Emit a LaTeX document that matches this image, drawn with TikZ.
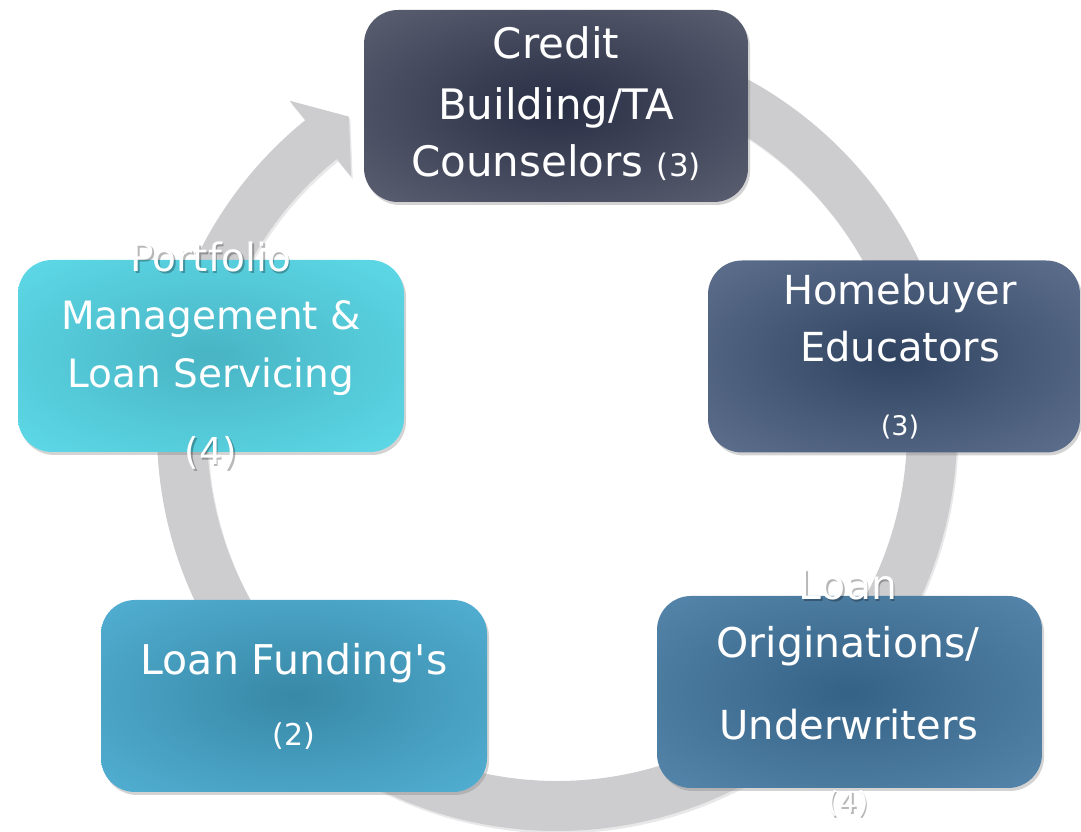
\documentclass[tikz,border=0pt]{standalone}
\usepackage{fontspec}
\setmainfont{DejaVu Sans}
\usetikzlibrary{shadows,calc}
\definecolor{ringgray}{RGB}{205,205,208}
\definecolor{crEdge}{RGB}{92,96,114}
\definecolor{crMid}{RGB}{40,46,68}
\definecolor{hbEdge}{RGB}{94,112,142}
\definecolor{hbMid}{RGB}{48,68,98}
\definecolor{loEdge}{RGB}{86,134,171}
\definecolor{loMid}{RGB}{52,98,134}
\definecolor{lfEdge}{RGB}{82,176,212}
\definecolor{lfMid}{RGB}{56,136,166}
\definecolor{pfEdge}{RGB}{94,218,232}
\definecolor{pfMid}{RGB}{72,180,196}
\pgfdeclareradialshading{crsh}{\pgfpoint{0bp}{0bp}}{color(0bp)=(crMid); color(36bp)=(crEdge); color(100bp)=(crEdge)}
\pgfdeclareradialshading{hbsh}{\pgfpoint{0bp}{0bp}}{color(0bp)=(hbMid); color(36bp)=(hbEdge); color(100bp)=(hbEdge)}
\pgfdeclareradialshading{losh}{\pgfpoint{0bp}{0bp}}{color(0bp)=(loMid); color(36bp)=(loEdge); color(100bp)=(loEdge)}
\pgfdeclareradialshading{lfsh}{\pgfpoint{0bp}{0bp}}{color(0bp)=(lfMid); color(36bp)=(lfEdge); color(100bp)=(lfEdge)}
\pgfdeclareradialshading{pfsh}{\pgfpoint{0bp}{0bp}}{color(0bp)=(pfMid); color(36bp)=(pfEdge); color(100bp)=(pfEdge)}
\tikzset{
  box/.style={rounded corners=34pt, minimum width=#1, minimum height=192pt, inner sep=0pt, shade,
    drop shadow={opacity=0.35, shadow xshift=2pt, shadow yshift=-3pt}},
  lbl/.style={text=white, anchor=base, inner sep=0pt},
  lblshadow/.style={text=black, text opacity=0.28, anchor=base, inner sep=0pt},
}
\newcommand{\fs}[1]{\fontsize{#1}{#1}\selectfont}
\begin{document}
\begin{tikzpicture}[x=1pt,y=1pt]
\useasboundingbox (0,0) rectangle (1081,832);
\coordinate (C) at (557,401);
% ring arrow
\fill[ringgray, drop shadow={opacity=0.18, shadow xshift=1.5pt, shadow yshift=-2.5pt}]
  ($(C)+(90:400)$) arc[start angle=90, end angle=-231, radius=400]
  -- ($(C)+(129:425)$) -- ($(C)+(123.5:377)$) -- ($(C)+(129:327)$)
  -- ($(C)+(129:350)$) arc[start angle=-231, end angle=90, radius=350] -- cycle;
% boxes
\node[box=384pt, shading=crsh] (cr) at (556,726) {};
\node[box=372pt, shading=hbsh] (hb) at (894,475.5) {};
\node[box=385pt, shading=losh] (lo) at (849.5,140) {};
\node[box=386pt, shading=lfsh] (lf) at (294,136) {};
\node[box=386pt, shading=pfsh] (pf) at (211,476) {};
% soft shadows of the texts that run out of their boxes
\node[lblshadow, font=\fs{41}] (lo1s) at (849.5,230.5) {Loan};
\node[lblshadow, font=\fs{29}] (lo4s) at (849.5,17.5) {(4)};
\node[lblshadow, font=\fs{39}] (pf1s) at (212.5,558.5) {Portfolio};
\node[lblshadow, font=\fs{37}] (pf4s) at (212.5,365.5) {(4)};
% texts
\node[lbl, font=\fs{42}] (cr1) at (556,773) {Credit};
\node[lbl, font=\fs{42}] (cr2) at (556,712) {Building/TA};
\node[lbl, font=\fs{42}] (cr3) at (556,655) {Counselors {\fs{31}(3)}};
\node[lbl, font=\fs{40}] (hb1) at (900,527) {Homebuyer};
\node[lbl, font=\fs{40}] (hb2) at (900,470) {Educators};
\node[lbl, font=\fs{27}] (hb3) at (900,396) {(3)};
\node[lbl, font=\fs{41}] (lo1) at (848,232) {Loan};
\node[lbl, font=\fs{41}] (lo2) at (848,174) {Originations/};
\node[lbl, font=\fs{40}] (lo3) at (849,92) {Underwriters};
\node[lbl, font=\fs{29}] (lo4) at (848,19) {(4)};
\node[lbl, font=\fs{41}] (lf1) at (294,157) {Loan Funding\textquotesingle s};
\node[lbl, font=\fs{30}] (lf2) at (294,86) {(2)};
\node[lbl, font=\fs{39}] (pf1) at (211,560) {Portfolio};
\node[lbl, font=\fs{39}] (pf2) at (211,502) {Management \&};
\node[lbl, font=\fs{39}] (pf3) at (211,444) {Loan Servicing};
\node[lbl, font=\fs{37}] (pf4) at (211,367) {(4)};
\end{tikzpicture}
\end{document}
